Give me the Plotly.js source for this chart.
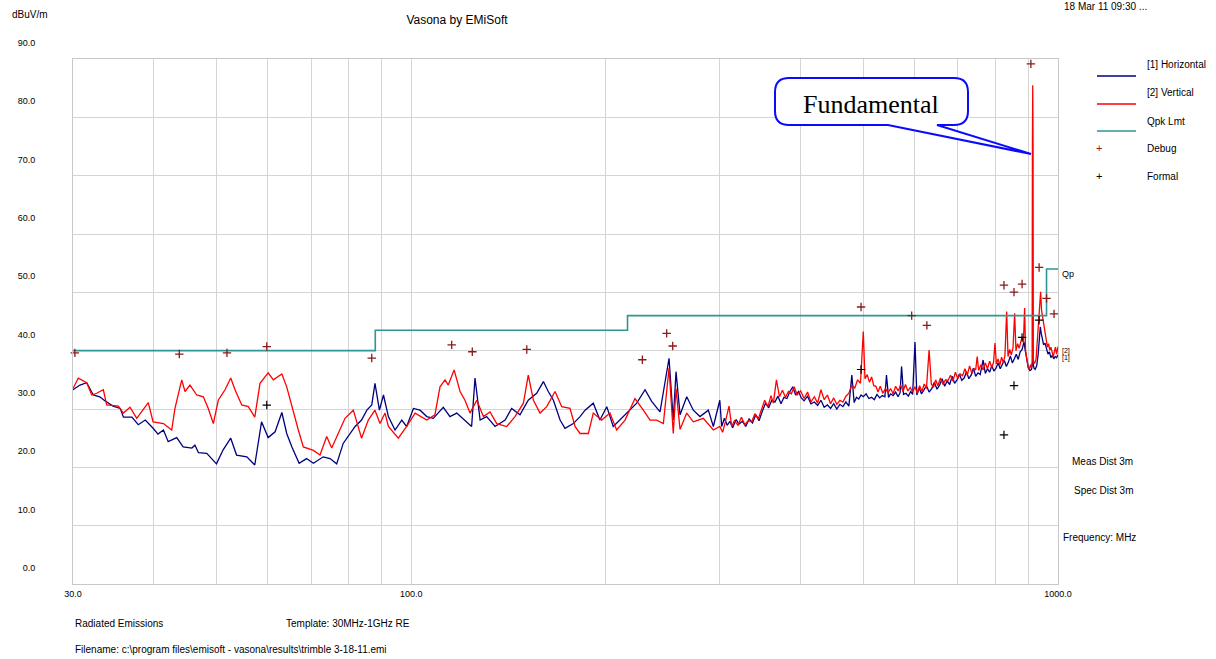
<!DOCTYPE html>
<html>
<head>
<meta charset="utf-8">
<script src="https://cdn.plot.ly/plotly-3.0.1.min.js"></script>
<style>html,body{margin:0;padding:0;background:#fff;}#chart{width:1216px;height:659px;}</style>
</head>
<body>
<div id="chart"></div>
<script>
// ---------- DATA ----------
// [1] Horizontal, 30-300 MHz
const horizFreqLow = [30.0,30.76,31.5,32.25,33.0,33.6,34.6,35.5,35.9,37.0,37.85,38.8,39.9,40.6,41.4,42.1,43.4,44.4,45.8,46.3,46.9,48.3,50.0,51.2,52.6,53.7,55.7,57.3,58.7,60.1,61.6,63.1,64.2,65.4,67.1,68.9,70.6,73.1,74.9,76.7,78.5,80.4,81.9,83.8,85.4,86.9,87.9,89.3,90.6,92.2,94.4,96.7,98.4,100.8,103.2,105.7,108.2,112.1,114.8,117.6,121.1,124.0,125.5,127.8,130.8,134.8,139.7,143.0,147.3,151.7,156.3,160.1,162.9,165.9,169.9,172.9,178.1,182.4,185.7,191.2,195.8,200.6,205.3,210.3,216.6,223.2,229.9,235.4,242.5,250.4,254.2,256.7,260.4,266.7,273.0,279.6,288.0,293.2];
const horizLevelLow = [33.3,34.1,34.5,32.4,32.1,31.4,30.5,30.1,28.6,28.6,27.3,28.1,26.7,25.7,26.4,24.4,25.1,23.5,23.3,23.8,22.5,22.4,20.6,23.0,25.0,22.1,21.8,20.4,27.8,25.1,26.1,29.4,25.8,23.5,20.7,21.5,20.7,21.8,21.5,20.6,24.1,25.8,27.0,28.1,29.8,30.7,34.4,29.8,32.4,28.7,26.4,28.1,27.0,30.1,29.8,28.7,28.4,30.3,28.7,29.3,28.1,27.0,35.3,28.1,28.7,27.0,28.1,30.1,29.0,31.5,32.7,34.7,33.0,31.5,28.1,26.7,27.5,28.7,29.8,31.0,28.1,30.4,27.0,28.1,29.5,31.0,33.3,31.3,29.5,38.7,28.1,36.4,29.0,32.1,29.8,28.7,29.8,27.0];
// [1] Horizontal, 300-1000 MHz
const horizFreqHigh = [300,302,305,308,311,314,318,321,325,329,333,337,341,345,349,353,357,361,365,369,373,377,381,385,389,393,397,401,405,410,415,420,425,430,435,440,445,450,455,460,465,470,475,480,484,488,492,496,500,505,510,515,520,525,530,535,540,543,547,551,556,561,566,570,573,577,582,587,592,596,601,605,610,615,620,626,632,638,644,650,656,662,668,674,680,686,692,698,704,710,716,722,728,734,740,746,752,758,766,772,778,784,790,796,802,808,814,820,826,832,838,844,850,856,862,868,874,880,886,890,895,900,905,910,914,918,922,927,932,936,939,942,946,950,955,960,965,970,975,980,985,990,995,1000];
const horizLevelHigh = [31.5,27.0,28.4,27.2,27.9,26.8,28.2,27.4,27.9,27.0,28.3,27.6,29.0,28.0,29.6,31.0,30.2,31.5,31.2,32.2,30.9,32.0,31.8,33.0,33.8,32.4,33.0,31.9,31.4,32.2,30.9,31.2,30.6,31.5,30.3,30.7,30.1,30.9,30.0,30.8,30.4,31.2,30.5,35.8,31.1,32.0,31.7,32.4,32.1,32.6,31.8,32.0,31.6,32.5,31.9,32.3,32.1,35.8,32.0,32.6,32.3,32.9,32.1,32.8,37.3,32.5,32.7,32.2,33.0,32.5,41.5,32.4,33.6,32.6,33.2,34.0,32.9,33.5,34.6,33.4,34.1,35.2,33.9,34.8,34.2,35.6,34.4,35.0,36.0,34.9,35.3,36.4,35.2,35.8,37.0,35.6,36.2,35.9,38.4,36.1,36.9,36.3,37.4,36.5,37.0,37.9,36.9,37.5,38.3,37.3,38.0,39.1,37.9,38.6,39.4,38.5,39.8,40.2,41.5,40.0,38.4,37.0,36.6,36.8,38.2,37.0,36.8,37.4,39.5,42.6,44.1,43.0,42.0,41.0,41.3,40.2,39.4,39.8,38.8,39.2,38.6,39.0,38.8,39.3];

// [2] Vertical, 30-300 MHz
const vertFreqLow = [30.0,30.57,31.5,32.07,32.64,33.42,33.82,35.25,35.9,36.75,37.64,38.31,39.22,39.9,41.4,42.63,43.13,44.18,44.70,45.50,46.60,47.71,48.56,49.44,50.32,51.54,52.6,53.41,54.70,56.00,57.3,58.38,60.1,61.21,63.1,64.2,65.73,66.91,68.11,70.6,72.28,74.02,75.35,77.15,79.01,81.38,83.8,85.84,87.9,89.49,91.10,92.2,95.52,98.4,101.4,105.7,108.8,110.8,112.8,114.1,116.5,119.0,121.1,123.3,126.3,129.3,132.4,135.6,140.5,144.7,149.1,151.7,154.5,158.2,162.0,166.9,170.9,176.0,179.2,182.4,187.9,191.2,197.0,202.9,207.8,214.1,221.8,228.5,234.0,239.7,245.4,250.4,254.2,256.7,260.4,266.7,273.0,282.9,293.2];
const vertLevelLow = [33.5,35.3,34.5,32.4,32.7,33.3,30.7,30.5,29.3,30.3,28.4,29.5,31.1,27.8,27.5,26.4,30.1,35.0,33.0,34.1,32.4,32.1,30.1,27.5,31.5,33.3,35.3,33.3,30.7,30.4,28.6,34.4,36.2,35.0,36.0,33.8,29.3,26.4,23.5,22.9,22.1,25.3,23.3,25.8,28.4,29.8,25.0,28.1,29.8,27.5,29.3,27.0,25.0,27.0,29.3,28.1,29.0,33.8,35.0,34.1,36.7,33.0,31.5,29.3,31.5,28.7,29.5,27.5,27.0,28.7,31.0,35.8,31.5,29.3,30.4,33.0,30.4,30.1,27.0,25.8,25.8,29.3,28.1,29.3,26.4,28.1,31.8,29.8,28.1,28.1,27.5,37.0,25.8,33.5,26.5,29.3,27.8,28.4,26.4];
// [2] Vertical, 300-1000 MHz
const vertFreqHigh = [300,303,306,310,313,316,320,324,328,332,336,340,344,348,352,356,360,363,367,371,375,379,383,387,391,395,400,405,410,415,420,425,430,435,440,445,450,455,460,465,470,475,480,485,490,495,500,503,507,511,515,519,523,527,531,536,541,546,551,556,561,566,571,576,581,586,591,596,601,606,611,616,621,626,632,637,642,647,652,658,664,670,676,682,688,694,700,706,712,718,724,730,736,742,746,750,754,760,766,772,778,784,790,795,799,803,808,813,818,823,828,833,837,842,847,852,857,861,866,871,876,880,884,888,891,895,899,903,907,910,912,913,914,915,916,920,925,929,933,937,940,943,947,951,955,959,963,967,971,975,979,983,987,991,995,1000];
const vertLevelHigh = [27.0,26.0,27.8,30.5,27.0,28.0,27.2,28.6,27.3,28.0,27.8,29.2,28.3,30.0,31.5,30.4,32.3,31.0,35.0,32.1,33.2,32.0,33.0,32.6,33.8,32.4,33.1,31.8,32.9,31.2,32.1,31.0,33.3,31.6,32.4,30.9,31.9,30.8,31.5,31.2,32.2,32.7,34.1,33.6,35.0,34.4,43.3,35.2,35.9,34.6,35.5,34.0,33.9,32.9,33.9,32.7,33.5,32.8,33.5,32.6,33.9,33.1,34.1,33.0,34.2,33.1,33.7,32.9,33.8,32.7,34.0,33.0,34.3,33.5,40.1,34.3,33.7,35.0,34.0,35.3,34.2,35.0,34.9,35.8,34.8,36.3,35.2,36.0,35.7,36.9,35.8,37.4,36.1,36.9,36.7,39.0,36.6,37.6,36.7,37.9,36.9,38.2,37.1,38.0,41.3,37.7,38.6,37.5,38.9,37.9,39.2,46.7,39.0,40.2,39.3,40.5,46.4,40.0,41.2,40.4,41.9,42.4,41.4,47.3,40.0,38.4,37.2,36.8,37.6,37.0,38.0,75.6,85.5,75.6,38.2,37.8,38.6,42.0,45.8,48.0,50.1,47.0,45.8,44.0,43.0,41.8,40.6,41.2,40.1,40.6,39.6,39.0,39.8,40.6,39.4,40.7];

// Qpk limit (FCC class B, 3 m)
const limitFreq = [30, 88, 88, 216, 216, 960, 960, 1000];
const limitLevel = [40, 40, 43.5, 43.5, 46, 46, 54, 54];

// Debug and Formal measurement points
const debugFreq = [30.2, 43.8, 51.9, 59.8, 86.9, 115.5, 124.3, 150.9, 227.7, 248.3, 253.7, 496, 594, 627, 825, 855, 880, 908, 935, 960, 986];
const debugLevel = [40.3, 40.1, 40.3, 41.4, 39.4, 41.7, 40.5, 40.9, 39.1, 43.7, 41.5, 48.3, 46.8, 45.1, 52.1, 50.9, 52.3, 90.7, 55.2, 49.8, 47.1];
const formalFreq = [59.8, 496, 825, 855, 880, 935];
const formalLevel = [31.2, 37.4, 26.0, 34.6, 43.0, 46.0];

// Axis ticks
const xTickVals = [30, 40, 50, 60, 70, 80, 90, 100, 200, 300, 400, 500, 600, 700, 800, 900, 1000];
const xTickText = ['30.0', '', '', '', '', '', '', '100.0', '', '', '', '', '', '', '', '', '1000.0'];
const yTickVals = [0, 10, 20, 30, 40, 50, 60, 70, 80, 90];
const yTickText = ['0.0', '10.0', '20.0', '30.0', '40.0', '50.0', '60.0', '70.0', '80.0', '90.0'];

// Legend entries
const legendNames = ['[1] Horizontal', '[2] Vertical', 'Qpk Lmt', 'Debug', 'Formal'];

// ---------- STYLE / LAYOUT ----------
const H_COLOR = '#000080', V_COLOR = '#ff0000', LIM_COLOR = '#2f9595', DBG_COLOR = '#8b1a1a', FRM_COLOR = '#000000';
const FONT = 'Liberation Sans, Arial, sans-serif';
// pixel frame: plot data area 73..1058 x 59..584 (0..90), paper extends to y=50 for out-of-range markers
const PL = 73, PR = 1058, PTOP = 50, PB = 584, PY90 = 59;
const px = x => (x - PL) / (PR - PL);
const py = y => (PB - y) / (PB - PTOP);
const mainDomainTop = (PB - PY90) / (PB - PTOP);
const y2Max = 90 / mainDomainTop;

const traces = [
  {x: horizFreqLow.concat(horizFreqHigh), y: horizLevelLow.concat(horizLevelHigh), type: 'scatter', mode: 'lines',
   line: {color: H_COLOR, width: 1.3}, name: legendNames[0], hoverinfo: 'skip'},
  {x: vertFreqLow.concat(vertFreqHigh), y: vertLevelLow.concat(vertLevelHigh), type: 'scatter', mode: 'lines',
   line: {color: V_COLOR, width: 1.3}, name: legendNames[1], hoverinfo: 'skip'},
  {x: limitFreq, y: limitLevel, type: 'scatter', mode: 'lines', line: {color: LIM_COLOR, width: 1.6},
   name: legendNames[2], hoverinfo: 'skip'},
  {x: debugFreq, y: debugLevel, yaxis: 'y2', type: 'scatter', mode: 'markers', cliponaxis: false,
   marker: {symbol: 'cross-thin', size: 6, line: {color: DBG_COLOR, width: 1.3}}, name: legendNames[3], hoverinfo: 'skip'},
  {x: formalFreq, y: formalLevel, yaxis: 'y2', type: 'scatter', mode: 'markers', cliponaxis: false,
   marker: {symbol: 'cross-thin', size: 6, line: {color: FRM_COLOR, width: 1.2}}, name: legendNames[4], hoverinfo: 'skip'}
];

function txt(text, x, y, opts) {
  return Object.assign({text: text, xref: 'paper', yref: 'paper', x: px(x), y: py(y), xanchor: 'left', yanchor: 'middle',
    showarrow: false, font: {family: FONT, size: 10, color: '#000'}}, opts || {});
}

const annotations = [
  txt('dBuV/m', 10, 14),
  txt('18 Mar 11 09:30 ...', 1062, 7),
  txt('Qp', 1060, 274, {font: {family: FONT, size: 9, color: '#000'}}),
  txt('[2]', 1060, 351, {font: {family: FONT, size: 7, color: '#000'}}),
  txt('[1]', 1060, 358, {font: {family: FONT, size: 7, color: '#000'}}),
  txt('Meas Dist 3m', 1070, 461),
  txt('Spec Dist 3m', 1072, 490),
  txt('Frequency: MHz', 1061, 537),
  txt('Radiated Emissions', 73, 623),
  txt('Template: 30MHz-1GHz RE', 284, 623),
  txt('Filename: c:\\program files\\emisoft - vasona\\results\\trimble 3-18-11.emi', 73, 649),
  txt('Fundamental', 871, 104, {xanchor: 'center', font: {family: 'Liberation Serif, Times New Roman, serif', size: 26, color: '#000'}})
];
// custom legend labels
const legendRowsY = [65, 93, 121, 148, 176];
legendNames.forEach((n, i) => annotations.push(txt(n, 1145, legendRowsY[i])));
annotations.push(txt('+', 1099, 148, {xanchor: 'center', font: {family: FONT, size: 11, color: DBG_COLOR}}));
annotations.push(txt('+', 1099, 176, {xanchor: 'center', font: {family: FONT, size: 11, color: FRM_COLOR}}));

const shapes = [];
[[76, H_COLOR], [104, V_COLOR], [131, LIM_COLOR]].forEach(([y, c]) => {
  shapes.push({type: 'line', xref: 'paper', yref: 'paper', x0: px(1097), x1: px(1136), y0: py(y), y1: py(y),
    line: {color: c, width: 1.5}});
});
// callout balloon
(function () {
  const l = 775, r = 968, t = 78, b = 125, rad = 14;
  const P = (x, y) => px(x).toFixed(5) + ',' + py(y).toFixed(5);
  const path = 'M' + P(l + rad, t) + ' L' + P(r - rad, t) + ' Q' + P(r, t) + ' ' + P(r, t + rad) +
    ' L' + P(r, b - rad) + ' Q' + P(r, b) + ' ' + P(r - rad, b) + ' L' + P(937, b) + ' L' + P(1031, 154) +
    ' L' + P(888, b) + ' L' + P(l + rad, b) + ' Q' + P(l, b) + ' ' + P(l, b - rad) + ' L' + P(l, t + rad) +
    ' Q' + P(l, t) + ' ' + P(l + rad, t) + ' Z';
  shapes.push({type: 'path', xref: 'paper', yref: 'paper', path: path, fillcolor: '#ffffff',
    line: {color: '#0a0aff', width: 2}, layer: 'above'});
})();

const layout = {
  width: 1216, height: 659,
  margin: {l: PL, r: 1216 - PR, t: PTOP, b: 659 - PB, pad: 0},
  paper_bgcolor: '#ffffff', plot_bgcolor: '#ffffff',
  showlegend: false,
  title: {text: 'Vasona by EMiSoft', font: {family: FONT, size: 12, color: '#000'},
    xref: 'container', yref: 'container', x: 457 / 1216, y: 1 - 20 / 659, xanchor: 'center', yanchor: 'middle'},
  xaxis: {type: 'log', range: [Math.log10(30), 3], tickvals: xTickVals, ticktext: xTickText,
    showgrid: true, gridcolor: '#d4d4d4', gridwidth: 1, showline: true, linecolor: '#c8c8c8', mirror: true,
    ticks: '', zeroline: false, tickfont: {family: FONT, size: 9, color: '#000'}, ticklabelstandoff: 1},
  yaxis: {domain: [0, mainDomainTop], range: [0, 90], tickvals: yTickVals, ticktext: yTickText,
    showgrid: true, gridcolor: '#d4d4d4', gridwidth: 1, showline: true, linecolor: '#c8c8c8', mirror: true,
    ticks: '', zeroline: false, tickfont: {family: FONT, size: 9, color: '#000'},
    ticklabelstandoff: 35, ticklabelshift: -16},
  yaxis2: {domain: [0, 1], range: [0, y2Max], overlaying: 'y', visible: false, showgrid: false, zeroline: false},
  annotations: annotations,
  shapes: shapes
};

Plotly.newPlot('chart', traces, layout, {displayModeBar: false, staticPlot: true});
</script>
</body>
</html>
